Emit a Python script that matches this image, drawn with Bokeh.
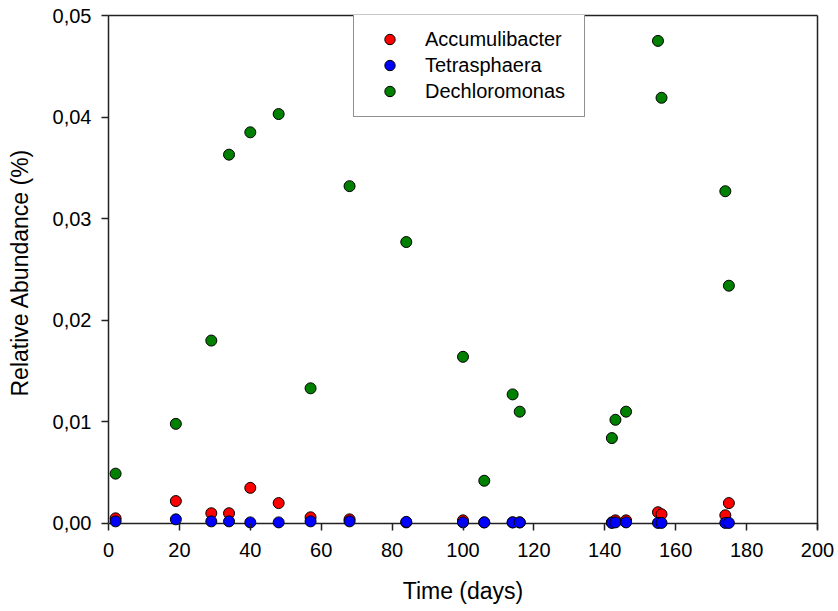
from bokeh.plotting import figure
from bokeh.models import (FixedTicker, CustomJSTickFormatter, Legend, LegendItem,
                          LinearAxis, Range1d, ColumnDataSource, Span)
from bokeh.embed import file_html
from bokeh.resources import INLINE

# ---- data ----
days = [2, 19, 29, 34, 40, 48, 57, 68, 84, 100, 106, 114, 116, 142, 143, 146, 155, 156, 174, 175]
accumulibacter = [0.0005, 0.0022, 0.0010, 0.0010, 0.0035, 0.0020, 0.0006, 0.0004, 0.0001, 0.0003,
                  0.0001, 0.0001, 0.0001, 0.0001, 0.0003, 0.0003, 0.0011, 0.0009, 0.0008, 0.0020]
tetrasphaera = [0.0002, 0.0004, 0.0002, 0.0002, 0.0001, 0.0001, 0.0002, 0.0002, 0.00015, 0.0001,
                0.0001, 0.0001, 0.0001, 0.00005, 0.0001, 0.0001, 0.00005, 0.00005, 0.00005, 0.00005]
dechloromonas = [0.0049, 0.0098, 0.0180, 0.0363, 0.0385, 0.0403, 0.0133, 0.0332, 0.0277, 0.0164,
                 0.0042, 0.0127, 0.0110, 0.0084, 0.0102, 0.0110, 0.0475, 0.0419, 0.0327, 0.0234]
series_names = ["Accumulibacter", "Tetrasphaera", "Dechloromonas"]
series_colors = ["#ff0000", "#0000ff", "#008000"]
x_ticks = [0, 20, 40, 60, 80, 100, 120, 140, 160, 180, 200]
y_ticks = [0.0, 0.01, 0.02, 0.03, 0.04, 0.05]
y_tick_labels = ["0,00", "0,01", "0,02", "0,03", "0,04", "0,05"]
x_title = "Time (days)"
y_title = "Relative Abundance (%)"

FONT = "Liberation Sans"
LINE = "#222222"

p = figure(width=838, height=611, output_backend="svg", toolbar_location=None,
           x_range=Range1d(0, 200), y_range=Range1d(-0.0006, 0.05),
           min_border_left=108, min_border_right=21, min_border_top=15, min_border_bottom=82)
p.grid.visible = False
p.outline_line_color = None
p.background_fill_color = "white"
p.border_fill_color = "white"

# axes
for ax in (p.xaxis[0], p.yaxis[0]):
    ax.axis_line_color = LINE
    ax.axis_line_width = 1.5
    ax.major_tick_line_color = LINE
    ax.major_tick_line_width = 1.5
    ax.major_tick_out = 7
    ax.major_tick_in = 0
    ax.minor_tick_line_color = None
    ax.major_label_text_font = FONT
    ax.major_label_text_font_size = "20px"
    ax.major_label_text_color = "black"
    ax.axis_label_text_font = FONT
    ax.axis_label_text_font_size = "23px"
    ax.axis_label_text_font_style = "normal"
    ax.axis_label_text_color = "black"
    ax.major_label_standoff = 10

# x axis sits at the frame bottom (slightly below y=0); the y=0 line is drawn as a span
p.xaxis[0].ticker = FixedTicker(ticks=x_ticks)
p.xaxis[0].axis_line_color = None
p.xaxis[0].major_tick_in = 6
p.xaxis[0].major_tick_out = 1
p.xaxis[0].major_label_standoff = 12
p.xaxis[0].axis_label = x_title
p.xaxis[0].axis_label_standoff = 18

zero_line = Span(location=0, dimension="width", line_color=LINE, line_width=1.5, level="underlay")
p.add_layout(zero_line)

p.yaxis[0].ticker = FixedTicker(ticks=y_ticks)
p.yaxis[0].bounds = (0, 0.05)
p.yaxis[0].formatter = CustomJSTickFormatter(
    args=dict(tick_vals=y_ticks, tick_texts=y_tick_labels),
    code="""
    for (let i = 0; i < tick_vals.length; i++) {
        if (Math.abs(tick_vals[i] - tick) < 1e-9) return tick_texts[i];
    }
    return '';
    """)
p.yaxis[0].axis_label = y_title
p.yaxis[0].axis_label_standoff = 17

# frame lines on top and right
top_ax = LinearAxis(ticker=FixedTicker(ticks=[]), axis_line_color=LINE, axis_line_width=1.5,
                    major_tick_line_color=None, minor_tick_line_color=None,
                    major_label_text_font_size="0px")
right_ax = LinearAxis(ticker=FixedTicker(ticks=[]), axis_line_color=LINE, axis_line_width=1.5,
                      major_tick_line_color=None, minor_tick_line_color=None,
                      major_label_text_font_size="0px")
p.add_layout(top_ax, "above")
p.add_layout(right_ax, "right")

# points
items = []
for name, vals, col in zip(series_names, [accumulibacter, tetrasphaera, dechloromonas], series_colors):
    src = ColumnDataSource(dict(x=days, y=vals))
    r = p.scatter("x", "y", source=src, size=11, fill_color=col, line_color="black", line_width=1)
    items.append(LegendItem(label=name, renderers=[r]))

legend = Legend(items=items, location=(245, 412), orientation="vertical",
                border_line_color=LINE, border_line_width=1.5, background_fill_color="white",
                background_fill_alpha=1.0, padding=12, spacing=0, glyph_width=47, glyph_height=26,
                label_height=25, label_width=147, label_standoff=12, label_text_font=FONT,
                label_text_font_size="20px", label_text_color="black", margin=0)
p.add_layout(legend, "center")

open("out.html", "w").write(file_html(p, INLINE))
